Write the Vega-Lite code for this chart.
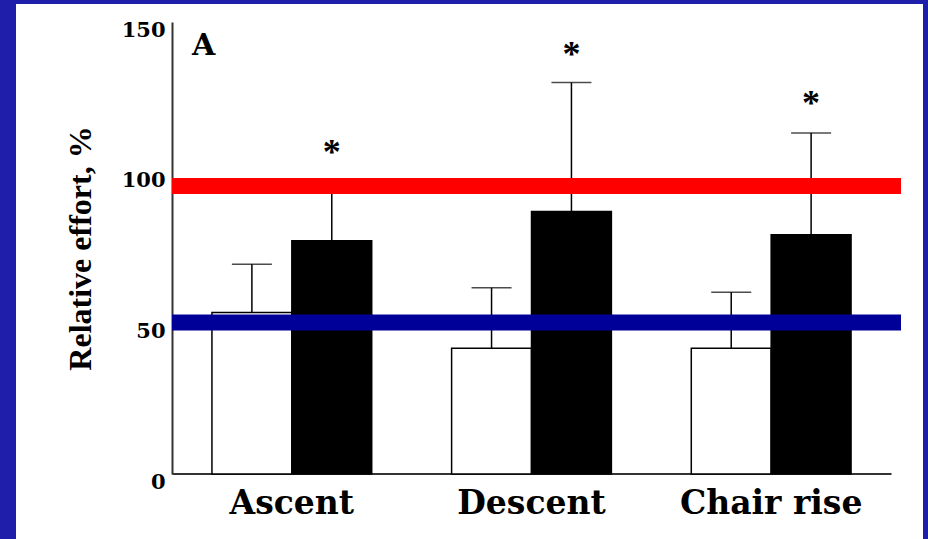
{
  "$schema": "https://vega.github.io/schema/vega-lite/v6.json",
  "width": 907,
  "height": 535,
  "autosize": {"type": "none"},
  "padding": {"left": 16, "top": 4, "right": 5, "bottom": 0},
  "background": "#1e1eaa",
  "config": {"view": {"fill": "white", "stroke": null}},
  "title": {
    "text": "A",
    "anchor": "start",
    "frame": "group",
    "orient": "top",
    "offset": -81,
    "dx": 176,
    "baseline": "alphabetic",
    "font": "DejaVu Serif",
    "fontSize": 30,
    "fontWeight": "bold",
    "color": "black"
  },
  "datasets": {
    "bars": [
      {"task": "Ascent", "group": "Young", "effort": 53.6, "sd_top": 69.6},
      {"task": "Ascent", "group": "Old", "effort": 77.4, "sd_top": 96},
      {"task": "Descent", "group": "Young", "effort": 41.7, "sd_top": 61.8},
      {"task": "Descent", "group": "Old", "effort": 87.1, "sd_top": 129.9},
      {"task": "Chair rise", "group": "Young", "effort": 41.7, "sd_top": 60.3},
      {"task": "Chair rise", "group": "Old", "effort": 79.4, "sd_top": 113.2}
    ],
    "stars": [
      {"task": "Ascent", "group": "Old", "pos": 108.2, "sig": "*"},
      {"task": "Descent", "group": "Old", "pos": 140.7, "sig": "*"},
      {"task": "Chair rise", "group": "Old", "pos": 124.3, "sig": "*"}
    ],
    "refs": [
      {"from": "Ascent", "to": "Chair rise", "level": 95.6, "line": "upper"},
      {"from": "Ascent", "to": "Chair rise", "level": 50.3, "line": "lower"}
    ]
  },
  "layer": [
    {
      "data": {"name": "bars"},
      "mark": {"type": "bar", "stroke": "black", "strokeWidth": 1.5},
      "encoding": {
        "x": {
          "field": "task",
          "type": "nominal",
          "sort": null,
          "scale": {"domain": ["Ascent", "Descent", "Chair rise"], "range": [156, 875], "paddingInner": 0, "paddingOuter": 0},
          "axis": {
            "title": null,
            "orient": "bottom",
            "offset": -65.5,
            "domainColor": "#333",
            "domainWidth": 2,
            "ticks": false,
            "grid": false,
            "labelAngle": 0,
            "labelFont": "DejaVu Serif",
            "labelFontSize": 33,
            "labelFontWeight": "bold",
            "labelColor": "black",
            "labelBaseline": "alphabetic",
            "labelPadding": 40,
            "labelLimit": 0
          }
        },
        "xOffset": {
          "field": "group",
          "type": "nominal",
          "scale": {"domain": ["Young", "Old"], "paddingInner": 0, "paddingOuter": 0.5}
        },
        "y": {
          "field": "effort",
          "type": "quantitative",
          "scale": {"domain": [0, 150], "range": [470, 18], "nice": false},
          "axis": {
            "title": "Relative effort, %",
            "offset": -156,
            "values": [0, 50, 100, 150],
            "grid": false,
            "ticks": false,
            "domainColor": "#333",
            "domainWidth": 2,
            "labelFont": "DejaVu Serif",
            "labelFontSize": 21,
            "labelFontWeight": "bold",
            "labelColor": "black",
            "labelPadding": 7,
            "labelBaseline": "middle",
            "labelOffset": 8,
            "labelFlush": false,
            "labelOverlap": false,
            "titleFont": "Liberation Serif",
            "titleFontSize": 32,
            "titleFontWeight": "bold",
            "titleColor": "black",
            "titlePadding": 24
          }
        },
        "color": {
          "field": "group",
          "type": "nominal",
          "scale": {"domain": ["Young", "Old"], "range": ["white", "black"]},
          "legend": null
        }
      }
    },
    {
      "data": {"name": "bars"},
      "mark": {"type": "rule", "color": "black", "strokeWidth": 1.5},
      "encoding": {
        "x": {"field": "task", "type": "nominal"},
        "xOffset": {"field": "group", "type": "nominal"},
        "y": {"field": "effort", "type": "quantitative"},
        "y2": {"field": "sd_top"}
      }
    },
    {
      "data": {"name": "bars"},
      "mark": {"type": "tick", "color": "black", "thickness": 1.5, "size": 40},
      "encoding": {
        "x": {"field": "task", "type": "nominal"},
        "xOffset": {"field": "group", "type": "nominal"},
        "y": {"field": "sd_top", "type": "quantitative"}
      }
    },
    {
      "data": {"name": "refs"},
      "mark": {"type": "rule", "strokeWidth": 16, "strokeCap": "butt", "x2Offset": 10},
      "encoding": {
        "x": {"field": "from", "type": "nominal", "bandPosition": 0},
        "x2": {"field": "to", "bandPosition": 1},
        "y": {"field": "level", "type": "quantitative"},
        "stroke": {
          "field": "line",
          "type": "nominal",
          "scale": {"domain": ["upper", "lower"], "range": ["#ff0000", "#000099"]},
          "legend": null
        }
      }
    },
    {
      "data": {"name": "stars"},
      "mark": {"type": "text", "font": "Liberation Serif", "fontSize": 36, "fontWeight": "bold", "baseline": "middle", "color": "black", "dy": 5},
      "encoding": {
        "x": {"field": "task", "type": "nominal"},
        "xOffset": {"field": "group", "type": "nominal"},
        "y": {"field": "pos", "type": "quantitative"},
        "text": {"field": "sig"}
      }
    }
  ]
}
